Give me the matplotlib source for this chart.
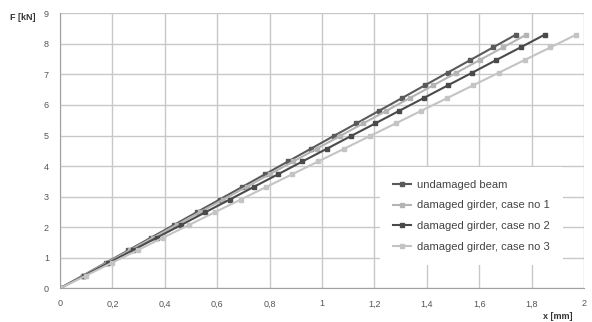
import matplotlib.pyplot as plt
from matplotlib.ticker import FuncFormatter

plt.rcParams['font.family'] = ['Liberation Sans', 'DejaVu Sans']

# load steps [kN], shared by all four measurements
force = [0, 0.415, 0.83, 1.245, 1.66, 2.075, 2.49, 2.905, 3.32, 3.735, 4.15,
         4.565, 4.98, 5.395, 5.81, 6.225, 6.64, 7.055, 7.47, 7.885, 8.3]

# deflection [mm]
x_undamaged = [0, 0.087, 0.174, 0.261, 0.348, 0.435, 0.522, 0.609, 0.696, 0.783, 0.870,
               0.957, 1.044, 1.131, 1.218, 1.305, 1.392, 1.479, 1.566, 1.653, 1.740]
x_case1 = [0, 0.089, 0.178, 0.267, 0.356, 0.445, 0.534, 0.623, 0.712, 0.801, 0.890,
           0.979, 1.068, 1.157, 1.246, 1.335, 1.424, 1.513, 1.602, 1.691, 1.780]
x_case2 = [0, 0.093, 0.185, 0.278, 0.370, 0.463, 0.555, 0.648, 0.740, 0.833, 0.925,
           1.018, 1.110, 1.203, 1.295, 1.388, 1.480, 1.573, 1.665, 1.758, 1.850]
x_case3 = [0, 0.099, 0.197, 0.296, 0.394, 0.493, 0.591, 0.690, 0.788, 0.887, 0.985,
           1.084, 1.182, 1.281, 1.379, 1.478, 1.576, 1.675, 1.773, 1.872, 1.970]

labels = ['undamaged beam', 'damaged girder, case no 1',
          'damaged girder, case no 2', 'damaged girder, case no 3']
colors = ['#5a5a5a', '#b4b4b4', '#4a4a4a', '#c4c4c4']

fig = plt.figure(figsize=(5.92, 3.22), dpi=100)
ax = fig.add_axes([0.1014, 0.1047, 0.8851, 0.854])

for xs, lab, c in zip([x_undamaged, x_case1, x_case2, x_case3], labels, colors):
    ax.plot(xs, force, color=c, lw=1.5, marker='s', ms=3.2, label=lab)

ax.set_xlim(0, 2)
ax.set_ylim(0, 9)
ax.set_xticks([0, 0.2, 0.4, 0.6, 0.8, 1, 1.2, 1.4, 1.6, 1.8, 2])
ax.set_yticks(range(10))
ax.xaxis.set_major_formatter(FuncFormatter(lambda v, p: ('%g' % v).replace('.', ',')))
ax.tick_params(length=0, labelsize=6.5, colors='#555555')
ax.tick_params(axis='x', pad=8)
ax.tick_params(axis='y', pad=8)
ax.grid(True, color='#c8c8c8', lw=1)
ax.set_axisbelow(True)
for side in ['top', 'right']:
    ax.spines[side].set_visible(False)
for side in ['left', 'bottom']:
    ax.spines[side].set_color('#a0a0a0')

fig.text(0.017, 0.947, 'F [kN]', fontsize=6.5, fontweight='bold', color='#333333',
         ha='left', va='center')
fig.text(0.967, 0.017, 'x [mm]', fontsize=6.5, fontweight='bold', color='#333333',
         ha='right', va='center')

leg = ax.legend(loc='lower right', bbox_to_anchor=(0.97, 0.065), frameon=True,
                fontsize=8, handlelength=1.6, handletextpad=0.5, labelspacing=0.95,
                borderpad=1.2, markerscale=0.8)
leg.get_frame().set_facecolor('white')
leg.get_frame().set_edgecolor('none')
leg.get_frame().set_alpha(1)
for t in leg.get_texts():
    t.set_color('#444444')

fig.savefig('out.png', dpi=100)
